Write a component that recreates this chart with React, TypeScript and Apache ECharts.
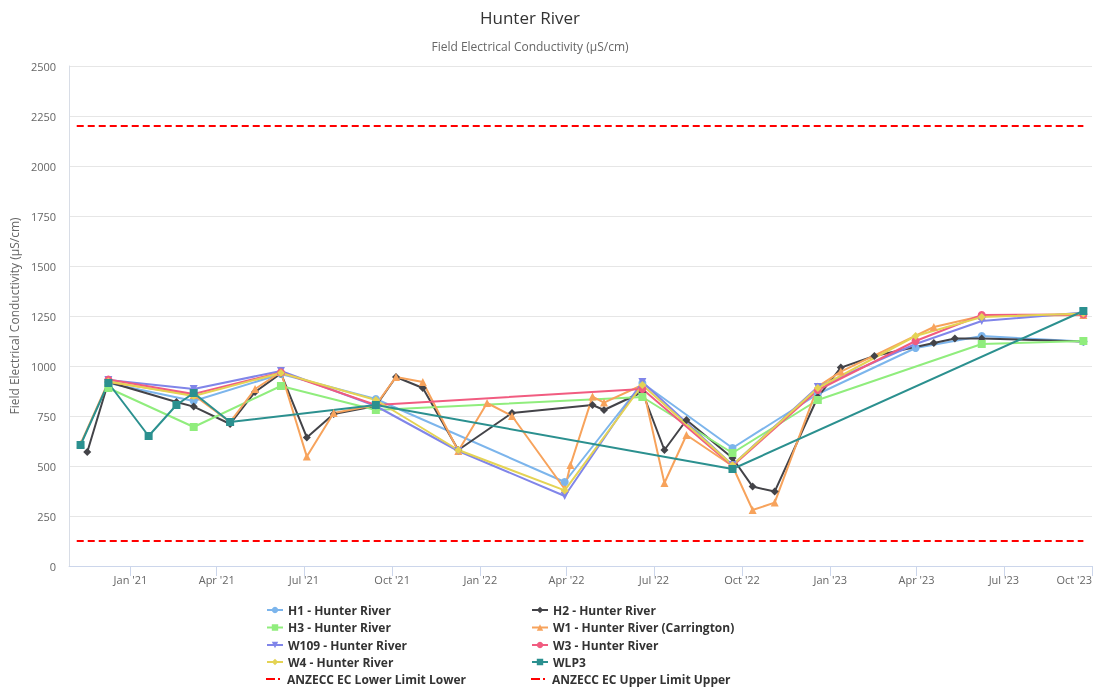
import React, { useEffect, useRef } from "react";
import * as echarts from "echarts";

type Pt = [string, number];

const h1: Pt[] = [
  ["2020-12-09", 915], ["2021-03-08", 825], ["2021-06-07", 960], ["2021-09-14", 835],
  ["2022-03-30", 420], ["2022-06-19", 915], ["2022-09-21", 590], ["2022-12-19", 860],
  ["2023-03-31", 1090], ["2023-06-08", 1150], ["2023-09-22", 1122],
];
const h2: Pt[] = [
  ["2020-11-17", 570], ["2020-12-09", 920], ["2021-02-18", 820], ["2021-03-08", 797],
  ["2021-04-15", 710], ["2021-05-11", 870], ["2021-06-07", 963], ["2021-07-04", 643],
  ["2021-08-01", 760], ["2021-09-14", 800], ["2021-10-05", 945], ["2021-11-02", 890],
  ["2021-12-09", 580], ["2022-02-03", 765], ["2022-04-28", 805], ["2022-05-10", 780],
  ["2022-06-19", 870], ["2022-07-12", 580], ["2022-08-04", 730], ["2022-09-21", 540],
  ["2022-10-12", 397], ["2022-11-04", 372], ["2022-12-19", 845], ["2023-01-12", 992],
  ["2023-02-16", 1050], ["2023-04-19", 1115], ["2023-05-11", 1138], ["2023-06-08", 1138],
  ["2023-09-22", 1122],
];
const h3: Pt[] = [
  ["2020-12-09", 890], ["2021-03-08", 695], ["2021-06-07", 900], ["2021-09-14", 780],
  ["2022-06-19", 845], ["2022-09-21", 565], ["2022-12-19", 830], ["2023-06-08", 1110],
  ["2023-09-22", 1125],
];
const w1: Pt[] = [
  ["2020-11-10", 610], ["2020-12-09", 920], ["2021-03-08", 855], ["2021-04-15", 720],
  ["2021-05-11", 885], ["2021-06-07", 970], ["2021-07-04", 547], ["2021-08-01", 765],
  ["2021-09-14", 805], ["2021-10-05", 945], ["2021-11-02", 920], ["2021-12-09", 575],
  ["2022-01-08", 815], ["2022-02-03", 750], ["2022-03-30", 385], ["2022-04-05", 505],
  ["2022-04-28", 847], ["2022-05-10", 817], ["2022-06-19", 905], ["2022-07-12", 415],
  ["2022-08-04", 655], ["2022-09-21", 500], ["2022-10-12", 280], ["2022-11-04", 317],
  ["2022-12-19", 897], ["2023-01-12", 972], ["2023-04-19", 1195], ["2023-06-08", 1250],
  ["2023-09-22", 1255],
];
const w109: Pt[] = [
  ["2020-12-09", 930], ["2021-03-08", 885], ["2021-06-07", 975], ["2021-09-14", 800],
  ["2021-12-09", 575], ["2022-03-30", 350], ["2022-06-19", 920], ["2022-09-21", 505],
  ["2022-12-19", 895], ["2023-03-31", 1110], ["2023-06-08", 1225], ["2023-09-22", 1267],
];
const w3: Pt[] = [
  ["2020-12-09", 932], ["2021-03-08", 860], ["2021-06-07", 968], ["2021-09-14", 805],
  ["2022-06-19", 885], ["2022-09-21", 500], ["2022-12-19", 880], ["2023-03-31", 1125],
  ["2023-06-08", 1255], ["2023-09-22", 1258],
];
const w4: Pt[] = [
  ["2020-12-09", 922], ["2021-03-08", 850], ["2021-06-07", 965], ["2021-09-14", 830],
  ["2021-12-09", 580], ["2022-03-30", 378], ["2022-06-19", 905], ["2022-09-21", 505],
  ["2022-12-19", 890], ["2023-03-31", 1150], ["2023-06-08", 1245], ["2023-09-22", 1262],
];
const wlp3: Pt[] = [
  ["2020-11-10", 605], ["2020-12-09", 915], ["2021-01-20", 650], ["2021-02-18", 805],
  ["2021-03-08", 865], ["2021-04-15", 720], ["2021-09-14", 805], ["2022-09-21", 485],
  ["2023-09-22", 1275],
];
const lowerLimit: Pt[] = [["2020-11-06", 125], ["2023-09-22", 125]];
const upperLimit: Pt[] = [["2020-11-06", 2200], ["2023-09-22", 2200]];

const tickDates = [
  "2021-01-01", "2021-04-01", "2021-07-01", "2021-10-01",
  "2022-01-01", "2022-04-01", "2022-07-01", "2022-10-01",
  "2023-01-01", "2023-04-01", "2023-07-01", "2023-10-01",
];
const monthNames = ["Jan", "Feb", "Mar", "Apr", "May", "Jun", "Jul", "Aug", "Sep", "Oct", "Nov", "Dec"];

const LOWER = "ANZECC EC Lower Limit Lower";
const UPPER = "ANZECC EC Upper Limit Upper";

// legend layout: two columns of names
const legendLeftCol = ["H1 - Hunter River", "H3 - Hunter River", "W109 - Hunter River", "W4 - Hunter River", LOWER];
const legendRightCol = ["H2 - Hunter River", "W1 - Hunter River (Carrington)", "W3 - Hunter River", "WLP3", UPPER];

const toTs = (s: string) => {
  const [y, m, d] = s.split("-").map(Number);
  return new Date(y, m - 1, d).getTime();
};
const conv = (pts: Pt[]) => pts.map(([d, v]) => [toTs(d), v]);

const FONT = "'Open Sans', sans-serif";

const seriesDefs = [
  { name: "H1 - Hunter River", data: h1, color: "#7cb5ec", symbol: "circle", rot: 0 },
  { name: "H2 - Hunter River", data: h2, color: "#434348", symbol: "diamond", rot: 0 },
  { name: "H3 - Hunter River", data: h3, color: "#90ed7d", symbol: "rect", rot: 0 },
  { name: "W1 - Hunter River (Carrington)", data: w1, color: "#f7a35c", symbol: "triangle", rot: 0 },
  { name: "W109 - Hunter River", data: w109, color: "#8085e9", symbol: "triangle", rot: 180 },
  { name: "W3 - Hunter River", data: w3, color: "#f15c80", symbol: "circle", rot: 0 },
  { name: "W4 - Hunter River", data: w4, color: "#e4d354", symbol: "diamond", rot: 0 },
  { name: "WLP3", data: wlp3, color: "#2b908f", symbol: "rect", rot: 0 },
];

const DASH_DOT_ICON = "path://M0,0L0.01,0Z M0,3L9,3L9,5L0,5Z M12,3L14,3L14,5L12,5Z M16,8L15.99,8Z";

export default function App() {
  const ref = useRef<HTMLDivElement>(null);
  useEffect(() => {
    const chart = echarts.init(ref.current!, null, { renderer: "svg" });
    const series: any[] = seriesDefs.map((s) => ({
      name: s.name,
      type: "line",
      data: conv(s.data),
      symbol: s.symbol,
      symbolSize: 8,
      symbolRotate: s.rot,
      showSymbol: true,
      lineStyle: { width: 2, color: s.color },
      itemStyle: { color: s.color },
      color: s.color,
    }));
    [[LOWER, lowerLimit], [UPPER, upperLimit]].forEach(([name, pts]: any) => {
      series.push({
        name,
        type: "line",
        data: conv(pts),
        symbol: "none",
        color: "#ff0000",
        lineStyle: { width: 2, type: [7, 4], color: "#ff0000" },
        itemStyle: { color: "#ff0000" },
      });
    });

    const legendText = { fontFamily: FONT, fontSize: 12, fontWeight: "bold" as const, color: "#333333" };
    const rowCenters = [610, 627.5, 645, 662, 679];
    const legends: any[] = [];
    [[legendLeftCol, 266], [legendRightCol, 531]].forEach(([names, left]: any) => {
      names.forEach((n: string, i: number) => {
        const isLimit = n === LOWER || n === UPPER;
        legends.push({
          orient: "horizontal",
          left,
          top: rowCenters[i] - 8,
          padding: 0,
          itemWidth: 16,
          itemHeight: 8,
          textStyle: { ...legendText, lineHeight: 16 },
          data: [isLimit ? { name: n, icon: DASH_DOT_ICON } : n],
        });
      });
    });

    const tickTs = tickDates.map(toTs);

    chart.setOption({
      animation: false,
      textStyle: { fontFamily: FONT },
      title: [
        {
          text: "Hunter River",
          left: 525,
          top: 4,
          textAlign: "center",
          textStyle: { fontFamily: FONT, fontSize: 17, fontWeight: "normal", color: "#333333" },
        },
        {
          text: "Field Electrical Conductivity (µS/cm)",
          left: 525,
          top: 35,
          textAlign: "center",
          textStyle: { fontFamily: FONT, fontSize: 12, fontWeight: "normal", color: "#666666" },
        },
      ],
      grid: { left: 68, right: 4, top: 66, bottom: 124, containLabel: false },
      legend: legends,
      xAxis: {
        type: "value",
        min: toTs("2020-10-29"),
        max: toTs("2023-10-01"),
        axisLine: { show: true, lineStyle: { color: "#ccd6eb", width: 1 } },
        axisTick: { show: true, length: 10, customValues: tickTs, lineStyle: { color: "#ccd6eb" } },
        splitLine: { show: false },
        axisLabel: {
          customValues: tickTs,
          alignMaxLabel: "right",
          margin: 8,
          color: "#666666",
          fontSize: 11,
          fontFamily: FONT,
          formatter: (v: number) => {
            const d = new Date(v);
            return monthNames[d.getMonth()] + " '" + String(d.getFullYear()).slice(2);
          },
        },
      },
      yAxis: {
        type: "value",
        min: 0,
        max: 2500,
        interval: 250,
        name: "Field Electrical Conductivity (µS/cm)",
        nameLocation: "middle",
        nameGap: 46,
        nameTextStyle: { color: "#666666", fontSize: 12, fontFamily: FONT },
        axisLine: { show: true, lineStyle: { color: "#d8dde6" } },
        axisTick: { show: false },
        axisLabel: {
          color: "#666666",
          fontSize: 11,
          fontFamily: FONT,
          margin: 13,
          formatter: (v: number) => String(v),
        },
        splitLine: { show: true, lineStyle: { color: "#e6e6e6" } },
      },
      series,
    });
    return () => chart.dispose();
  }, []);
  return <div ref={ref} style={{ position: "fixed", left: 0, top: 0, width: 1096, height: 690 }} />;
}
